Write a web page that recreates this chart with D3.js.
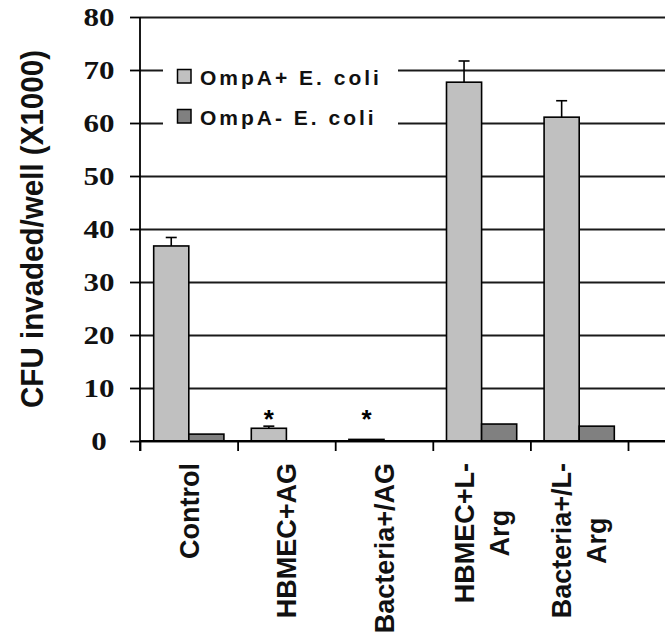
<!DOCTYPE html>
<html>
<head>
<meta charset="utf-8">
<script src="https://cdn.jsdelivr.net/npm/d3@7"></script>
<style>
  html, body { margin: 0; padding: 0; background: #fff; }
  svg { display: block; }
</style>
</head>
<body>
<svg id="chart" width="665" height="641"></svg>
<script>
// ---- data ----
const categories = [["Control"], ["HBMEC+AG"], ["Bacteria+/AG"], ["HBMEC+L-", "Arg"], ["Bacteria+/L-", "Arg"]];
const categoryKeys = ["Control", "HBMEC+AG", "Bacteria+/AG", "HBMEC+L-Arg", "Bacteria+/L-Arg"];
const seriesNames = ["OmpA+ E. coli", "OmpA- E. coli"];
const ompAPlus = [36.8, 2.4, 0.3, 67.7, 61.1];
const ompAPlusErr = [1.6, 0.4, 0, 4.0, 3.1];
const ompAMinus = [1.3, 0, 0, 3.2, 2.8];
const ompAMinusErr = [0, 0, 0, 0, 0];
const significant = [false, true, true, false, false];
const yTicks = [0, 10, 20, 30, 40, 50, 60, 70, 80];
const yTitle = "CFU invaded/well (X1000)";
const colors = ["#c0c0c0", "#808080"];

(function () {
// ---- layout ----
const svg = d3.select("#chart");
const pLeft = 140, pRight = 628, pTop = 17, pBottom = 441, plotRight = 665;

const y = d3.scaleLinear().domain([0, 80]).range([pBottom, pTop]);
const x = d3.scaleBand().domain(categoryKeys).range([pLeft, pRight]).padding(0);
const xs = d3.scaleBand().domain(seriesNames).range([0, x.bandwidth()]).paddingInner(0).paddingOuter(0.39);
const xb = d3.scaleLinear().domain([0, categoryKeys.length]).range([pLeft, pRight]);

const values = [ompAPlus, ompAMinus];
const errs = [ompAPlusErr, ompAMinusErr];

// gridlines
const grid = svg.append("g").attr("transform", `translate(${pLeft},0)`)
  .call(d3.axisRight(y).tickValues(yTicks).tickSize(plotRight - pLeft).tickFormat(""));
grid.select(".domain").remove();
grid.selectAll("line").attr("stroke", "#1a1a1a").attr("stroke-width", 1.8);

// legend background (covers gridlines)
svg.append("rect").attr("x", 163).attr("y", 58).attr("width", 235).attr("height", 78).attr("fill", "#fff");

// bars
seriesNames.forEach((s, si) => {
  const g = svg.append("g");
  g.selectAll("rect").data(values[si]).join("rect")
    .attr("x", (d, i) => x(categoryKeys[i]) + xs(s))
    .attr("y", d => y(d))
    .attr("width", xs.bandwidth())
    .attr("height", d => y(0) - y(d))
    .attr("fill", colors[si])
    .attr("stroke", "#000")
    .attr("stroke-width", 1.6)
    .style("display", d => d > 0 ? null : "none");
  values[si].forEach((v, i) => {
    const e = errs[si][i];
    if (!(v > 0) || !(e > 0)) return;
    const cx = x(categoryKeys[i]) + xs(s) + xs.bandwidth() / 2;
    g.append("line").attr("x1", cx).attr("x2", cx).attr("y1", y(v)).attr("y2", y(v + e))
      .attr("stroke", "#000").attr("stroke-width", 1.6);
    g.append("line").attr("x1", cx - 5.5).attr("x2", cx + 5.5).attr("y1", y(v + e)).attr("y2", y(v + e))
      .attr("stroke", "#000").attr("stroke-width", 1.6);
  });
});

// asterisks
significant.forEach((sig, i) => {
  if (!sig) return;
  svg.append("text")
    .attr("x", x(categoryKeys[i]) + xs(seriesNames[0]) + xs.bandwidth() / 2)
    .attr("y", 428)
    .attr("text-anchor", "middle")
    .attr("font-family", "Liberation Sans, Arial, sans-serif")
    .attr("font-weight", "bold")
    .attr("font-size", 26)
    .text("*");
});

// y axis
const yAxis = svg.append("g").attr("transform", `translate(${pLeft},0)`)
  .call(d3.axisLeft(y).tickValues(yTicks).tickSize(10).tickFormat(d3.format("d")));
yAxis.select(".domain").remove();
yAxis.selectAll("line").attr("stroke", "#000").attr("stroke-width", 1.8);
yAxis.selectAll("text")
  .attr("x", 99 - pLeft)
  .attr("dy", "0.34em")
  .attr("text-anchor", "middle")
  .attr("font-family", "Liberation Serif, Times New Roman, serif")
  .attr("font-weight", "bold")
  .attr("font-size", 25)
  .attr("fill", "#111")
  .attr("textLength", d => String(d).length * 15.5)
  .attr("lengthAdjust", "spacingAndGlyphs");
svg.append("line").attr("x1", pLeft).attr("x2", pLeft).attr("y1", pTop).attr("y2", pBottom + 10)
  .attr("stroke", "#000").attr("stroke-width", 1.8);

// x axis (category boundary ticks)
const xAxis = svg.append("g").attr("transform", `translate(0,${pBottom})`)
  .call(d3.axisBottom(xb).ticks(categoryKeys.length).tickSize(10).tickFormat(""));
xAxis.select(".domain").remove();
xAxis.selectAll("line").attr("stroke", "#000").attr("stroke-width", 1.8);
svg.append("line").attr("x1", pLeft).attr("x2", plotRight).attr("y1", pBottom).attr("y2", pBottom)
  .attr("stroke", "#000").attr("stroke-width", 1.8);

// x labels (rotated)
const labelTop = 463;
categories.forEach((lines, i) => {
  const cx = x(categoryKeys[i]) + x.bandwidth() / 2;
  const n = lines.length;
  const spacing = 35;
  const g = svg.append("g");
  const texts = lines.map((ln, li) => {
    const off = (li - (n - 1) / 2) * spacing;
    const t = g.append("text")
      .attr("font-family", "Liberation Sans, Arial, sans-serif")
      .attr("font-weight", "bold")
      .attr("font-size", 27)
      .attr("fill", "#111")
      .text(ln);
    t.node().__off = off;
    return t;
  });
  const maxLen = d3.max(texts, t => t.node().getComputedTextLength());
  texts.forEach(t => {
    const off = t.node().__off;
    const midY = labelTop + maxLen / 2;
    t.attr("text-anchor", "middle")
      .attr("transform", `translate(${cx + off},${midY}) rotate(-90)`)
      .attr("dy", "0.36em");
  });
});

// y title
svg.append("text")
  .attr("transform", `translate(43,229) rotate(-90)`)
  .attr("text-anchor", "middle")
  .attr("font-family", "Liberation Sans, Arial, sans-serif")
  .attr("font-weight", "bold")
  .attr("font-size", 31)
  .attr("fill", "#111")
  .attr("textLength", 358)
  .attr("lengthAdjust", "spacingAndGlyphs")
  .text(yTitle);

// legend
const legend = svg.append("g");
const legendY = [85, 125];
seriesNames.forEach((s, si) => {
  legend.append("rect")
    .attr("x", 177.5).attr("y", legendY[si] - 15.5)
    .attr("width", 13.5).attr("height", 13.5)
    .attr("fill", colors[si]).attr("stroke", "#000").attr("stroke-width", 1.5);
  legend.append("text")
    .attr("x", 200).attr("y", legendY[si])
    .attr("font-family", "Liberation Sans, Arial, sans-serif")
    .attr("font-weight", "bold")
    .attr("font-size", 21)
    .attr("letter-spacing", 3)
    .attr("fill", "#111")
    .text(s);
});
})();
</script>
</body>
</html>
